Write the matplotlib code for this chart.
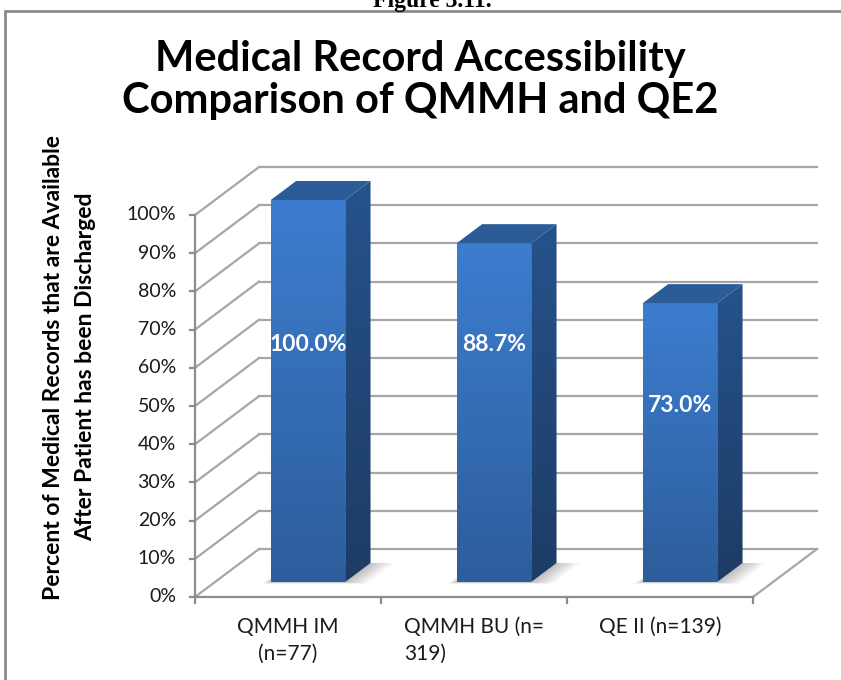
import numpy as np
import matplotlib.pyplot as plt
from matplotlib.patches import Polygon, Rectangle
from matplotlib.colors import LinearSegmentedColormap

categories = ['QMMH IM\n(n=77)', 'QMMH BU (n=\n319)', 'QE II (n=139)']
values = [100.0, 88.7, 73.0]
value_labels = ['100.0%', '88.7%', '73.0%']
yticks = list(range(0, 101, 10))
title = 'Medical Record Accessibility\nComparison of QMMH and QE2'
ylabel = 'Percent of Medical Records that are Available\nAfter Patient has been Discharged'

# layout only
label_heights = [66, 66, 50]
label_align = ['center', 'left', 'center']

plt.rcParams['font.family'] = ['Lato', 'DejaVu Sans']

W, H = 841, 680
fig = plt.figure(figsize=(W / 100, H / 100), dpi=100)
ax = fig.add_axes([0, 0, 1, 1])
ax.set_axis_off()

# front plane: categories 0..3 -> px 195..753, 0..100% -> px 597..215 (from top)
sx = 186.0
sy = 3.82
x0px, y0px = 195, H - 597
DX = 64 / sx      # depth offset of the back wall
DY = 48 / sy
n = len(categories)


def proj(x, y, d):
    return (x + d * DX, y + d * DY)


grid_col = '#a6a6a6'
# back wall + left wall grid
for t in yticks:
    a, b = proj(0, t, 1), proj(n, t, 1)
    ax.plot([a[0], b[0]], [a[1], b[1]], color=grid_col, lw=1.6, zorder=1)
    c = proj(0, t, 0)
    ax.plot([c[0], a[0]], [c[1], a[1]], color=grid_col, lw=1.6, zorder=1)
# floor right edge
a, b = proj(n, 0, 0), proj(n, 0, 1)
ax.plot([a[0], b[0]], [a[1], b[1]], color=grid_col, lw=1.6, zorder=1)

# front axes
ax.plot([0, n], [0, 0], color='#8c8c8c', lw=1.6, zorder=2)
ax.plot([0, 0], [0, 100], color='#8c8c8c', lw=1.6, zorder=2)
for t in yticks:
    ax.plot([-5 / sx, 0], [t, t], color='#8c8c8c', lw=1.6, zorder=2)
    ax.text(-19 / sx, t, f'{t}%', ha='right', va='center', fontsize=14, color='#1a1a1a')
for i in range(n + 1):
    ax.plot([i, i], [0, -6 / sy], color='#8c8c8c', lw=1.6, zorder=2)

front_cmap = LinearSegmentedColormap.from_list('front', ['#2d5d9b', '#3c7dcf'])
side_cmap = LinearSegmentedColormap.from_list('side', ['#1d3c65', '#26528b'])
grad = np.linspace(0, 1, 256).reshape(-1, 1)

half = 0.2
d0, d1 = 15 / 48, 34 / 48
for i, v in enumerate(values):
    xl, xr = i + 0.5 - half, i + 0.5 + half
    # soft floor shadow
    for k in range(7):
        e = 0.010 * (k + 1)
        ed = 0.035 * (k + 1)
        shadow = [proj(xl - e * 0.5, 0, d0 - ed * 0.15), proj(xr + e * 1.8, 0, d0 - ed * 0.15),
                  proj(xr + e * 1.8, 0, d1), proj(xl - e * 0.5, 0, d1)]
        ax.add_patch(Polygon(shadow, closed=True, facecolor='#000000', alpha=0.035,
                             edgecolor='none', zorder=3))
    front = [proj(xl, 0, d0), proj(xr, 0, d0), proj(xr, v, d0), proj(xl, v, d0)]
    side = [proj(xr, 0, d0), proj(xr, 0, d1), proj(xr, v, d1), proj(xr, v, d0)]
    top = [proj(xl, v, d0), proj(xr, v, d0), proj(xr, v, d1), proj(xl, v, d1)]

    for poly, cmap in ((front, front_cmap), (side, side_cmap)):
        p = Polygon(poly, closed=True, facecolor='none', edgecolor='none', zorder=4)
        ax.add_patch(p)
        xs = [q[0] for q in poly]
        ys = [q[1] for q in poly]
        im = ax.imshow(grad, cmap=cmap, origin='lower', aspect='auto', zorder=4,
                       extent=[min(xs), max(xs), min(ys), max(ys)], interpolation='bilinear')
        im.set_clip_path(p)
    ax.add_patch(Polygon(top, closed=True, facecolor='#2c5c98', edgecolor='none', zorder=4))

    fx = i + 0.5 + d0 * DX
    ax.text(fx, label_heights[i], value_labels[i], ha='center', va='center',
            fontsize=16.5, fontweight='bold', color='white', zorder=6)

    ax.text(i + 0.5, -20 / sy, categories[i], ha='center', va='top', fontsize=15,
            multialignment=label_align[i], linespacing=1.4, color='#1a1a1a')

ax.set_xlim(-x0px / sx, (W - x0px) / sx)
ax.set_ylim(-y0px / sy, (H - y0px) / sy)

fig.text(420 / W, 1 - 80 / H, title, ha='center', va='center', fontsize=30,
         fontweight='bold', linespacing=1.15, color='black')
fig.text(70 / W, 1 - 367 / H, ylabel, ha='center', va='center', rotation=90,
         fontsize=16.5, fontweight='bold', linespacing=1.65, color='black')
fig.text(432 / W, 1 - 7 / H, 'Figure 3.11.', ha='center', va='baseline', fontsize=17,
         fontweight='bold', family=['Liberation Serif', 'DejaVu Serif'], color='black')

fig.add_artist(Rectangle((5 / W, -0.05), 1.0, 1 - 11 / H + 0.05, transform=fig.transFigure,
                         facecolor='none', edgecolor='#8a8a8a', lw=2))

fig.savefig('out.png', dpi=100)
